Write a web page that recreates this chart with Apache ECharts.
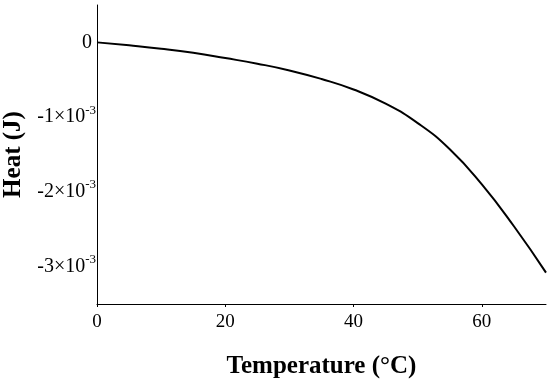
<!DOCTYPE html>
<html>
<head>
<meta charset="utf-8">
<script src="https://cdn.jsdelivr.net/npm/echarts@6/dist/echarts.min.js"></script>
<style>html,body{margin:0;padding:0;background:#fff;}#c{width:550px;height:386px;}</style>
</head>
<body>
<div id="c"></div>
<script>
const temperature = [0, 5, 10, 15, 20, 25, 30, 35, 40, 45, 50, 55, 60, 65, 70];
const heat = [0, -0.04e-3, -0.085e-3, -0.14e-3, -0.21e-3, -0.285e-3, -0.375e-3, -0.49e-3, -0.63e-3, -0.82e-3, -1.08e-3, -1.43e-3, -1.9e-3, -2.46e-3, -3.08e-3];
const xTitle = 'Temperature (°C)';
const yTitle = 'Heat (J)';

const FONT = 'Liberation Serif';
const chart = echarts.init(document.getElementById('c'));
chart.setOption({
  animation: false,
  grid: {left: 97, right: 4, top: 5, bottom: 82, containLabel: false, outerBoundsMode: 'none'},
  xAxis: {
    type: 'value', min: 0, max: 70, interval: 20,
    name: xTitle, nameLocation: 'middle', nameGap: 50,
    nameTextStyle: {fontFamily: FONT, fontWeight: 'bold', fontSize: 25, color: '#000'},
    axisLine: {onZero: false, lineStyle: {color: '#000', width: 1}},
    axisTick: {show: true, length: 3, lineStyle: {color: '#000'}},
    axisLabel: {fontFamily: FONT, fontSize: 19, color: '#000', margin: 9, showMaxLabel: false},
    splitLine: {show: false}
  },
  yAxis: {
    type: 'value', min: -3.5e-3, max: 0.5e-3, interval: 0.5e-3,
    name: yTitle, nameLocation: 'middle', nameGap: 70, nameRotate: 90,
    nameTextStyle: {fontFamily: FONT, fontWeight: 'bold', fontSize: 25, color: '#000'},
    axisLine: {show: true, onZero: false, lineStyle: {color: '#000', width: 1}},
    axisTick: {show: false},
    splitLine: {show: false},
    axisLabel: {
      fontFamily: FONT, fontSize: 20, color: '#000', margin: 1,
      formatter: function (v) {
        const k = Math.round(v * 2000);
        if (k % 2 !== 0) return '';
        const n = k / 2;
        if (n === 0) return '{z|0}';
        if (n > 0) return '';
        return '{b|' + n + '×10}{s|-3}';
      },
      rich: {
        z: {fontFamily: FONT, fontSize: 20, color: '#000', padding: [0, 4, 0, 0]},
        b: {fontFamily: FONT, fontSize: 20, color: '#000'},
        s: {fontFamily: FONT, fontSize: 13, color: '#000', padding: [0, 0, 14, 0]}
      }
    }
  },
  series: [{
    type: 'line', data: temperature.map((t, i) => [t, heat[i]]),
    smooth: true, showSymbol: false,
    lineStyle: {color: '#000', width: 2}
  }]
});
</script>
</body>
</html>
